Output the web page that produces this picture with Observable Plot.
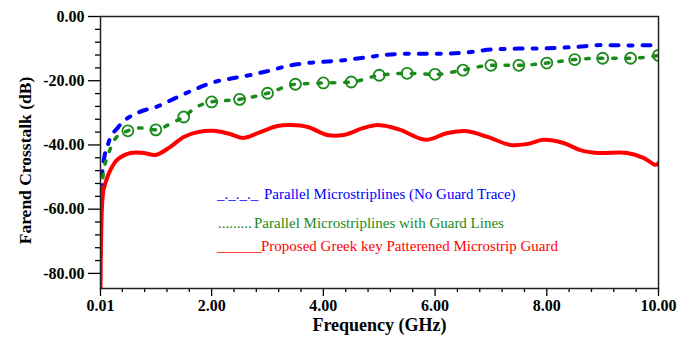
<!DOCTYPE html>
<html>
<head>
<meta charset="utf-8">
<script src="https://cdn.jsdelivr.net/npm/d3@7"></script>
<script src="https://cdn.jsdelivr.net/npm/@observablehq/plot@0.6"></script>
<style>
  html, body { margin: 0; padding: 0; background: #fff; }
  #wrap { position: relative; width: 690px; height: 345px; }
  .leg { position: absolute; font-family: "Liberation Serif", serif; font-size: 15px; white-space: pre; line-height: 1; }
</style>
</head>
<body>
<div id="wrap"></div>
<script>
// Series: [frequency GHz, crosstalk dB]
const blueSeries = [
  [0.01,-65],[0.03,-52],[0.06,-46],[0.15,-39.5],[0.33,-34.4],[0.7,-29.8],[1.0,-28.2],
  [1.4,-25],[1.67,-22.9],[2.05,-20.4],[2.35,-19.3],[2.75,-18],[3.0,-17],[3.42,-15.2],
  [3.7,-14.5],[4.08,-14],[4.37,-13.6],[4.73,-12.8],[5.04,-12.1],[5.5,-11.6],[6.0,-11.6],
  [6.5,-11.3],[7.0,-10.3],[7.5,-10],[8.0,-9.9],[8.5,-9.5],[9.0,-8.9],[9.5,-9.0],[10,-8.9]
];
const greenSeries = [
  [0.01,-67],[0.03,-55],[0.06,-49],[0.15,-43],[0.3,-37.5],[0.5,-35.6],[0.7,-34.7],
  [1.0,-35.3],[1.3,-33],[1.5,-31.3],[1.7,-28.5],[2.0,-26.6],[2.5,-25.8],[3.0,-23.9],
  [3.5,-21.1],[4.0,-20.7],[4.5,-20.4],[5.0,-18.3],[5.5,-17.7],[6.0,-18],[6.5,-16.7],
  [7.0,-15.2],[7.5,-15.2],[8.0,-14.5],[8.5,-13.4],[9.0,-13],[9.5,-13],[10,-12.1]
];
const redSeries = [
  [0.01,-84.7],[0.02,-70],[0.04,-58],[0.064,-54],[0.135,-49.9],[0.19,-47.7],[0.31,-44.6],
  [0.55,-42.5],[0.78,-42.5],[1.0,-43.1],[1.26,-40.6],[1.5,-37.5],[1.75,-36],[2.03,-35.6],
  [2.33,-36.6],[2.57,-37.8],[2.87,-36],[3.18,-34.1],[3.41,-33.8],[3.72,-34.4],[4.07,-36.9],
  [4.36,-36.9],[4.72,-34.7],[4.97,-33.8],[5.2,-34.4],[5.38,-35.3],[5.83,-38.4],[6.22,-36.3],
  [6.58,-35.7],[6.94,-37.5],[7.35,-40],[7.65,-39.7],[7.94,-38.4],[8.3,-39.4],[8.6,-41.6],
  [8.91,-42.5],[9.44,-42.5],[9.73,-44],[9.95,-46.2],[10,-45.6]
];
const xMajorTicks = [0.01, 2, 4, 6, 8, 10];
const xMinorTicks = [0.4,0.8,1.2,1.6,2.4,2.8,3.2,3.6,4.4,4.8,5.2,5.6,6.4,6.8,7.2,7.6,8.4,8.8,9.2,9.6];
const yMajorTicks = [0, -20, -40, -60, -80];
const yMinorTicks = [-4,-8,-12,-16,-24,-28,-32,-36,-44,-48,-52,-56,-64,-68,-72,-76];
const xTitle = "Frequency (GHz)";
const yTitle = "Farend Crosstalk (dB)";
const legendLabels = [
  "Parallel Microstriplines (No Guard Trace)",
  "Parallel Microstriplines with Guard Lines",
  "Proposed Greek key Patterened Microstrip Guard"
];
const legendSamples = ["_._._._", ".........", "______"];
const colors = ["#0000ff", "#1a8a1a", "#ff0000"];

const toRows = (arr) => arr.map(([f, v]) => ({f, v}));
const blue = toRows(blueSeries), green = toRows(greenSeries), red = toRows(redSeries);
const greenMarkers = green.filter(d => d.f >= 0.5 && Math.abs(d.f * 2 - Math.round(d.f * 2)) < 1e-9);

const chart = Plot.plot({
  width: 690, height: 345,
  marginLeft: 100, marginRight: 32, marginTop: 16, marginBottom: 57,
  style: {fontFamily: "Liberation Serif", fontSize: "16px", fontWeight: "bold", color: "#000", background: "#fff"},
  x: {domain: [0.01, 10]},
  y: {domain: [-84.7, 0]},
  marks: [
    Plot.line(blue, {x: "f", y: "v", stroke: colors[0], strokeWidth: 4, strokeDasharray: "8,10,4,10", curve: "monotone-x", clip: true}),
    Plot.line(green, {x: "f", y: "v", stroke: colors[1], strokeWidth: 3.5, strokeDasharray: "3.5,10", curve: "monotone-x", clip: true}),
    Plot.dot(greenMarkers, {x: "f", y: "v", r: 5.5, stroke: colors[1], strokeWidth: 1.8, fill: "none", clip: true}),
    Plot.line(red, {x: "f", y: "v", stroke: colors[2], strokeWidth: 4, curve: "catmull-rom", clip: true}),
    Plot.axisY({ticks: yMajorTicks, tickSize: 12, tickPadding: 4, tickFormat: d => d.toFixed(2), label: null, strokeWidth: 1.3}),
    Plot.axisY({ticks: yMinorTicks, tickSize: 5, text: null, label: null, strokeWidth: 1.3}),
    Plot.axisX({ticks: xMajorTicks, tickSize: 8, tickPadding: 3, tickFormat: d => d.toFixed(2), label: null, strokeWidth: 1.3}),
    Plot.axisX({ticks: xMinorTicks, tickSize: 4, text: null, label: null, strokeWidth: 1.3}),
    Plot.text([yTitle], {text: d => d, frameAnchor: "left", textAnchor: "middle", rotate: -90, dx: -75, dy: 8, fontSize: 17.5, fontWeight: "bold"}),
    Plot.text([xTitle], {text: d => d, frameAnchor: "bottom", dy: 42, fontSize: 18, fontWeight: "bold"}),
    Plot.frame({stroke: "#222", strokeWidth: 1.5})
  ]
});
const wrap = document.getElementById("wrap");
wrap.appendChild(chart);

const legPos = [
  {sx: 217, tx: 264, top: 187},
  {sx: 218, tx: 254, top: 216},
  {sx: 217, tx: 261, top: 239}
];
legendLabels.forEach((lab, i) => {
  const s = document.createElement("div");
  s.className = "leg"; s.style.color = colors[i];
  s.style.left = legPos[i].sx + "px"; s.style.top = legPos[i].top + "px";
  s.textContent = legendSamples[i];
  wrap.appendChild(s);
  const t = document.createElement("div");
  t.className = "leg"; t.style.color = colors[i];
  t.style.left = legPos[i].tx + "px"; t.style.top = legPos[i].top + "px";
  t.textContent = lab;
  wrap.appendChild(t);
});
</script>
</body>
</html>
